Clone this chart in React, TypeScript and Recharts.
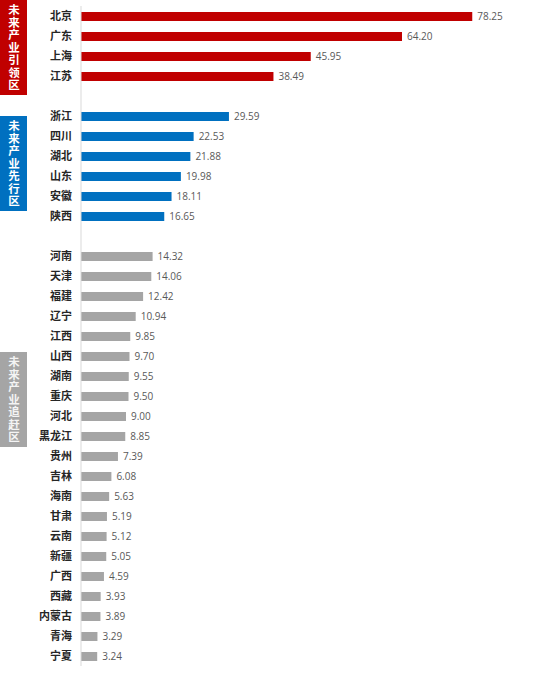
import React from "react";
import { BarChart, Bar, XAxis, YAxis, Cell, LabelList } from "recharts";

const leadNames = ["北京", "广东", "上海", "江苏"];
const leadValues = [78.25, 64.2, 45.95, 38.49];
const firstNames = ["浙江", "四川", "湖北", "山东", "安徽", "陕西"];
const firstValues = [29.59, 22.53, 21.88, 19.98, 18.11, 16.65];
const chaseNames = ["河南", "天津", "福建", "辽宁", "江西", "山西", "湖南", "重庆", "河北", "黑龙江", "贵州", "吉林", "海南", "甘肃", "云南", "新疆", "广西", "西藏", "内蒙古", "青海", "宁夏"];
const chaseValues = [14.32, 14.06, 12.42, 10.94, 9.85, 9.7, 9.55, 9.5, 9.0, 8.85, 7.39, 6.08, 5.63, 5.19, 5.12, 5.05, 4.59, 3.93, 3.89, 3.29, 3.24];
const groupTitles = ["未来产业引领区", "未来产业先行区", "未来产业追赶区"];
const groupColors = ["#C00000", "#0070C0", "#A5A5A5"];

type Row = { name: string; value: number | null; group: number };

const data: Row[] = [
  ...leadNames.map((n, i) => ({ name: n, value: leadValues[i], group: 0 })),
  { name: "_gap1", value: null, group: -1 },
  ...firstNames.map((n, i) => ({ name: n, value: firstValues[i], group: 1 })),
  { name: "_gap2", value: null, group: -1 },
  ...chaseNames.map((n, i) => ({ name: n, value: chaseValues[i], group: 2 })),
];

const boxes = [
  { top: 0, height: 95, group: 0, text: "#ffffff" },
  { top: 116, height: 95, group: 1, text: "#ffffff" },
  { top: 352, height: 95, group: 2, text: "#f4f4f4" },
];

function GroupBox({ top, height, group, text }: { top: number; height: number; group: number; text: string }) {
  return (
    <div
      style={{
        position: "absolute",
        left: 0,
        top,
        width: 27,
        height,
        background: groupColors[group],
        display: "flex",
        alignItems: "center",
        justifyContent: "center",
      }}
    >
      <span
        style={{
          writingMode: "vertical-rl",
          textOrientation: "upright",
          letterSpacing: "1px",
          fontFamily: "'Noto Sans CJK SC', sans-serif",
          fontWeight: 700,
          fontSize: 11.5,
          lineHeight: "27px",
          color: text,
        }}
      >
        {groupTitles[group]}
      </span>
    </div>
  );
}

export default function App() {
  return (
    <div style={{ position: "absolute", left: 0, top: 0, width: 539, height: 673, background: "#fff" }}>
      <BarChart
        layout="vertical"
        width={539}
        height={673}
        data={data}
        margin={{ top: 6, right: 58, bottom: 7, left: 0 }}
        barCategoryGap={0}
      >
        <XAxis type="number" domain={[0, 80]} hide />
        <YAxis
          type="category"
          dataKey="name"
          width={81}
          interval={0}
          tickLine={false}
          axisLine={{ stroke: "#d9d9d9", strokeWidth: 1 }}
          tickMargin={3}
          tickFormatter={(v: string) => (v.startsWith("_") ? "" : v)}
          tick={{ fill: "#262626", fontSize: 11, fontWeight: 700, fontFamily: "'Noto Sans CJK SC', sans-serif" }}
        />
        <Bar dataKey="value" barSize={9} isAnimationActive={false}>
          {data.map((d, i) => (
            <Cell key={i} fill={d.group >= 0 ? groupColors[d.group] : "transparent"} />
          ))}
          <LabelList
            dataKey="value"
            position="right"
            offset={5}
            fill="#595959"
            fontSize={10}
            fontFamily="'Open Sans', 'Noto Sans', sans-serif"
            formatter={(v: any) => (v == null ? "" : Number(v).toFixed(2))}
          />
        </Bar>
      </BarChart>
      {boxes.map((b, i) => (
        <GroupBox key={i} {...b} />
      ))}
    </div>
  );
}
